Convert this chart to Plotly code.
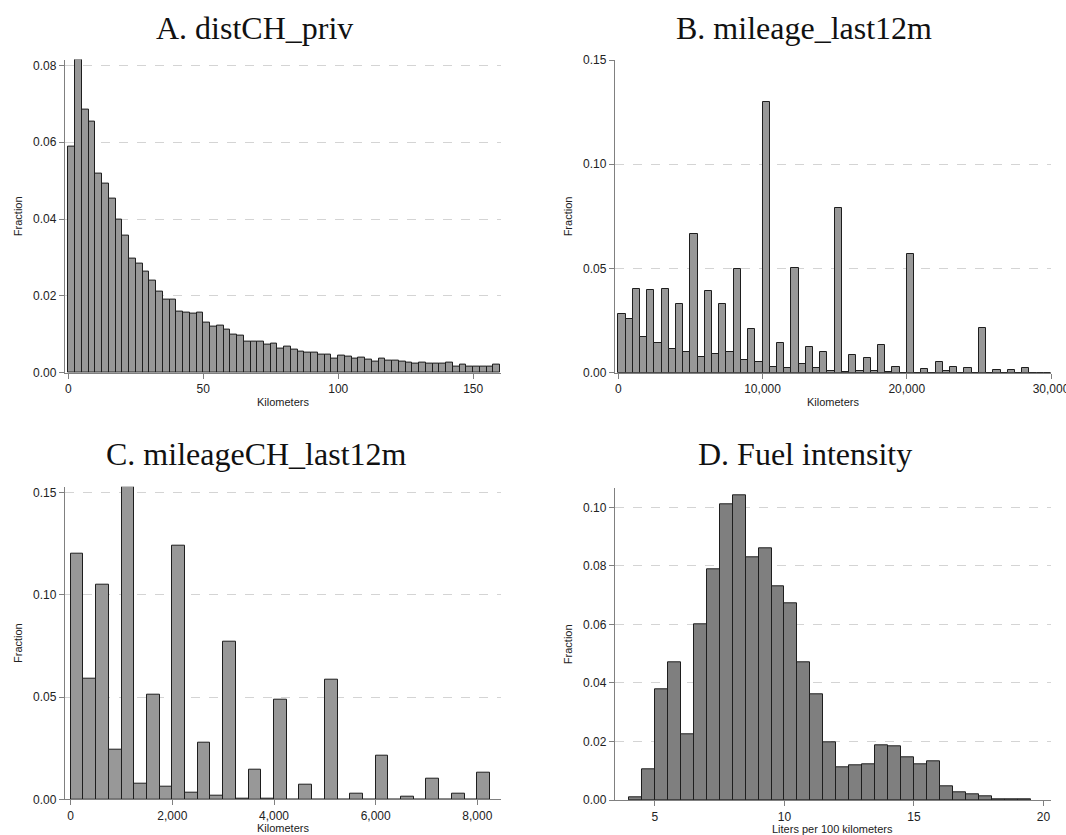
import plotly.graph_objects as go

W, H = 1066, 835

# ---------------- data ----------------
A_start, A_width = 0.0, 2.5
A_vals = [0.0588, 0.0814, 0.0685, 0.0654, 0.0519, 0.0493, 0.0453, 0.0399, 0.0357, 0.0298,
          0.0285, 0.0264, 0.0241, 0.0212, 0.0189, 0.0189, 0.0160, 0.0156, 0.0154, 0.0156,
          0.0130, 0.0121, 0.0122, 0.0113, 0.0100, 0.0097, 0.0080, 0.0080, 0.0082, 0.0074,
          0.0076, 0.0063, 0.0067, 0.0061, 0.0055, 0.0053, 0.0053, 0.0046, 0.0046, 0.0037,
          0.0044, 0.0043, 0.0037, 0.0040, 0.0033, 0.0030, 0.0036, 0.0031, 0.0031, 0.0029,
          0.0026, 0.0024, 0.0027, 0.0024, 0.0023, 0.0023, 0.0026, 0.0017, 0.0020, 0.0016,
          0.0016, 0.0016, 0.0017, 0.0020]

B_start, B_width = 0.0, 500.0
B_vals = [0.0280, 0.0259, 0.0400, 0.0170, 0.0395, 0.0141, 0.0400, 0.0112, 0.0328, 0.0098,
          0.0667, 0.0074, 0.0390, 0.0088, 0.0328, 0.0098, 0.0497, 0.0061, 0.0209, 0.0050,
          0.1300, 0.0026, 0.0141, 0.0021, 0.0500, 0.0042, 0.0125, 0.0021, 0.0098, 0.0010,
          0.0788, 0.0005, 0.0083, 0.0008, 0.0069, 0.0010, 0.0131, 0.0002, 0.0029, 0.0,
          0.0568, 0.0, 0.0019, 0.0, 0.0050, 0.0006, 0.0026, 0.0, 0.0021, 0.0,
          0.0213, 0.0, 0.0011, 0.0, 0.0011, 0.0, 0.0021, 0.0, 0.0, 0.0]

C_start, C_width = 0.0, 250.0
C_vals = [0.1199, 0.0591, 0.1049, 0.0244, 0.1528, 0.0078, 0.0513, 0.0060, 0.1241, 0.0031,
          0.0278, 0.0020, 0.0772, 0.0005, 0.0143, 0.0005, 0.0489, 0.0, 0.0073, 0.0,
          0.0583, 0.0, 0.0028, 0.0, 0.0212, 0.0, 0.0015, 0.0, 0.0103, 0.0,
          0.0028, 0.0, 0.0132]

D_start, D_width = 4.0, 0.5
D_vals = [0.0008, 0.0105, 0.0378, 0.0472, 0.0223, 0.0600, 0.0788, 0.1011, 0.1041, 0.0829,
          0.0861, 0.0730, 0.0672, 0.0472, 0.0361, 0.0197, 0.0112, 0.0118, 0.0121, 0.0188,
          0.0185, 0.0146, 0.0121, 0.0132, 0.0048, 0.0028, 0.0019, 0.0013, 0.0002, 0.0002,
          0.0002]

titles = ["A. distCH_priv", "B. mileage_last12m", "C. mileageCH_last12m", "D. Fuel intensity"]
xtitles = ["Kilometers", "Kilometers", "Kilometers", "Liters per 100 kilometers"]
A_xticks = [0, 50, 100, 150]
B_xticks = [0, 10000, 20000, 30000]
C_xticks = [0, 2000, 4000, 6000, 8000]
D_xticks = [5, 10, 15, 20]
A_yticks = [0, 0.02, 0.04, 0.06, 0.08]
B_yticks = [0, 0.05, 0.10, 0.15]
C_yticks = [0, 0.05, 0.10, 0.15]
D_yticks = [0, 0.02, 0.04, 0.06, 0.08, 0.10]

# ---------------- layout geometry (pixels) ----------------
panels = [
    dict(vals=A_vals, start=A_start, width=A_width, rect=(65, 501, 59.6, 372.7),
         xr=[-1.22, 160.3], yr=[0, 0.0815], xt=A_xticks, yt=A_yticks, xf="", fill="#989898"),
    dict(vals=B_vals, start=B_start, width=B_width, rect=(615, 1051.3, 60, 372.7),
         xr=[-229, 30020], yr=[0, 0.15], xt=B_xticks, yt=B_yticks, xf=",d", fill="#989898"),
    dict(vals=C_vals, start=C_start, width=C_width, rect=(65, 500.7, 486.7, 799.3),
         xr=[-112, 8460], yr=[0, 0.1528], xt=C_xticks, yt=C_yticks, xf=",d", fill="#989898"),
    dict(vals=D_vals, start=D_start, width=D_width, rect=(615, 1050.7, 488.3, 800),
         xr=[3.457, 20.28], yr=[0, 0.1065], xt=D_xticks, yt=D_yticks, xf="", fill="#7f7f7f"),
]
title_pos = [(254, 28), (804, 28), (256, 454), (805, 454)]
ytitle_x = [18, 568, 18, 568]

fig = go.Figure()
annotations = []
axis_color = "#808080"
sans = "Liberation Sans, Arial, sans-serif"
tick_font = dict(family=sans, size=12, color="#222222")

for i, p in enumerate(panels):
    n = i + 1
    xs = "" if n == 1 else str(n)
    x0, x1, ytop, ybot = p["rect"]
    centers = [p["start"] + (k + 0.5) * p["width"] for k in range(len(p["vals"]))]
    fig.add_trace(go.Bar(
        x=centers, y=p["vals"], width=p["width"],
        marker=dict(color=p["fill"], line=dict(color="#1e1e1e", width=1)),
        xaxis="x" + xs, yaxis="y" + xs, showlegend=False, hoverinfo="x+y"))
    xdom = [x0 / W, x1 / W]
    ydom = [1 - ybot / H, 1 - ytop / H]
    fig.layout["xaxis" + xs] = dict(
        domain=xdom, range=p["xr"], anchor="y" + xs, showgrid=False, zeroline=False,
        automargin=False, ticklabeloverflow="allow",
        showline=True, linecolor=axis_color, linewidth=1.3,
        ticks="outside", ticklen=5, tickcolor=axis_color, tickwidth=1,
        tickmode="array", tickvals=p["xt"], tickformat=p["xf"], tickfont=tick_font)
    fig.layout["yaxis" + xs] = dict(
        domain=ydom, range=p["yr"], anchor="x" + xs, zeroline=False,
        automargin=False, ticklabeloverflow="allow",
        showgrid=True, gridcolor="#d4d4d4", gridwidth=1, griddash="dash",
        showline=True, linecolor=axis_color, linewidth=1.3,
        ticks="outside", ticklen=5, tickcolor=axis_color, tickwidth=1,
        tickmode="array", tickvals=p["yt"], tickformat=".2f", tickfont=tick_font)
    # panel title
    tx, ty = title_pos[i]
    annotations.append(dict(text=titles[i], x=tx / W, y=1 - ty / H, xref="paper", yref="paper",
                            showarrow=False, xanchor="center", yanchor="middle",
                            font=dict(family="Liberation Serif, Times New Roman, serif",
                                      size=32, color="#111")))
    # y axis title
    annotations.append(dict(text="Fraction", x=ytitle_x[i] / W, y=1 - ((ytop + ybot) / 2) / H,
                            xref="paper", yref="paper", showarrow=False, textangle=-90,
                            xanchor="center", yanchor="middle",
                            font=dict(family=sans, size=11, color="#222222")))
    # x axis title
    annotations.append(dict(text=xtitles[i], x=((x0 + x1) / 2) / W, y=1 - (ybot + 29) / H,
                            xref="paper", yref="paper", showarrow=False,
                            xanchor="center", yanchor="middle",
                            font=dict(family=sans, size=11, color="#222222")))

fig.update_layout(
    width=W, height=H, margin=dict(l=0, r=0, t=0, b=0, autoexpand=False),
    paper_bgcolor="white", plot_bgcolor="white",
    bargap=0, annotations=annotations, showlegend=False)

fig.write_html("out.html", config={"displayModeBar": False},
               post_script="document.body.style.margin='0';document.body.style.padding='0';")
